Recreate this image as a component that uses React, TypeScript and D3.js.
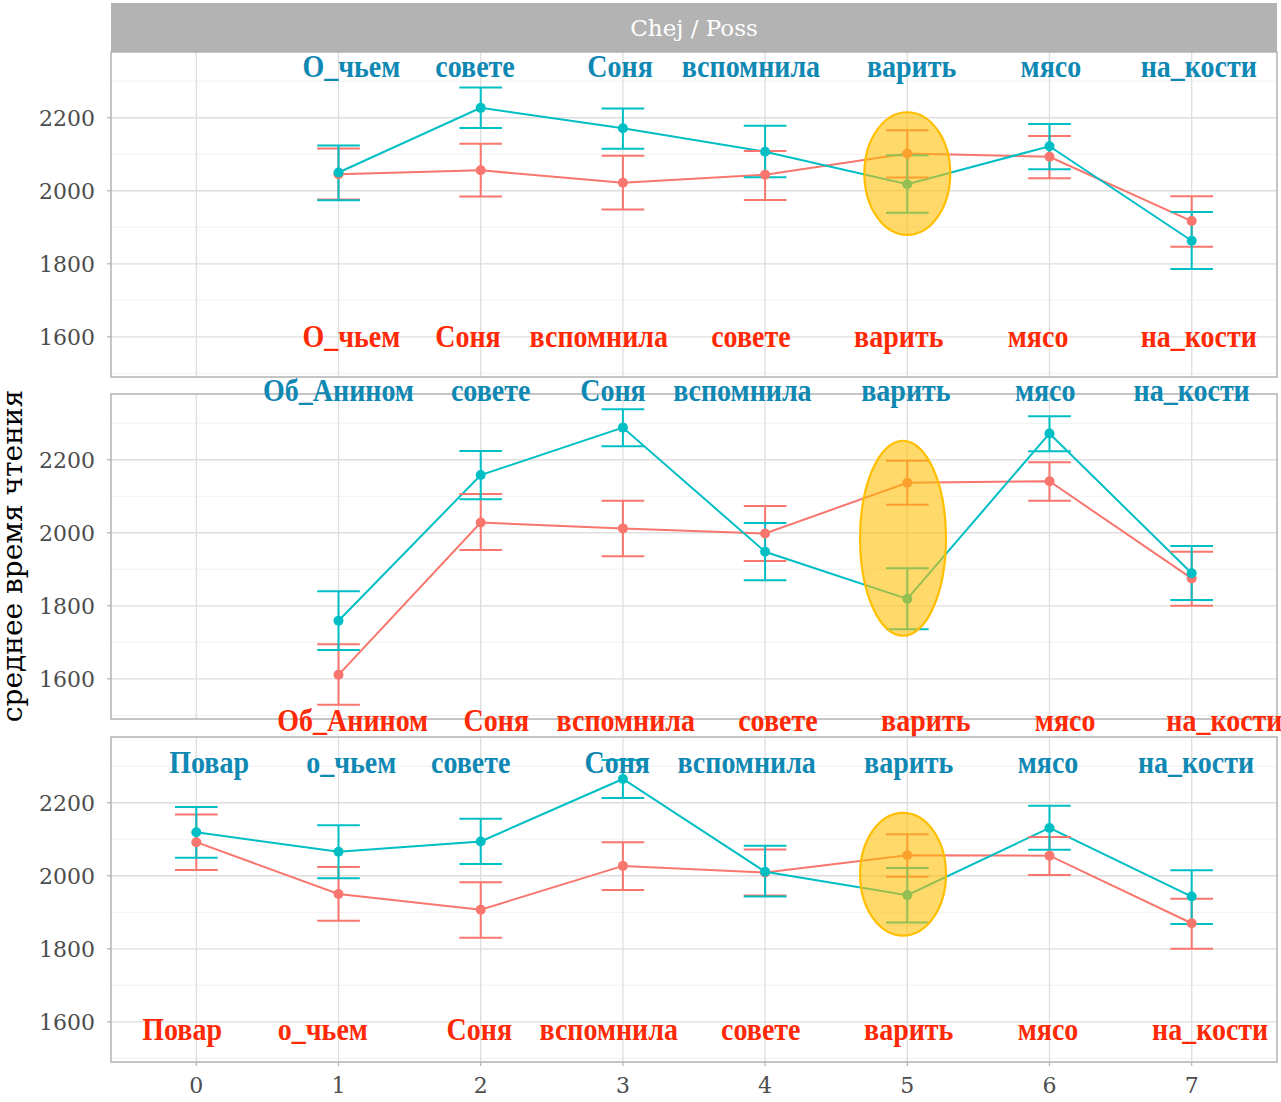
import React from "react";
import * as d3 from "d3";

// ---- data ----
const stripTitle = "Chej / Poss";
const yLabel = "среднее время чтения";
const xTicks = [0, 1, 2, 3, 4, 5, 6, 7];
const yTicks = [1600, 1800, 2000, 2200];
const yMinor = [1500, 1700, 1900, 2100, 2300];

const p1X = [1, 2, 3, 4, 5, 6, 7];
const p1Red = [2045, 2056, 2022, 2044, 2102, 2093, 1917];
const p1RedLo = [1976, 1984, 1949, 1975, 2036, 2034, 1847];
const p1RedHi = [2116, 2129, 2096, 2109, 2166, 2150, 1985];
const p1Blue = [2050, 2227, 2171, 2107, 2018, 2122, 1863];
const p1BlueLo = [1974, 2172, 2115, 2037, 1940, 2059, 1786];
const p1BlueHi = [2124, 2283, 2225, 2178, 2097, 2183, 1942];

const p2X = [1, 2, 3, 4, 5, 6, 7];
const p2Red = [1611, 2028, 2012, 1998, 2137, 2141, 1875];
const p2RedLo = [1529, 1953, 1936, 1923, 2077, 2088, 1800];
const p2RedHi = [1695, 2106, 2088, 2073, 2197, 2193, 1948];
const p2Blue = [1759, 2158, 2288, 1948, 1819, 2272, 1889];
const p2BlueLo = [1679, 2092, 2237, 1870, 1736, 2223, 1816];
const p2BlueHi = [1840, 2224, 2338, 2027, 1903, 2319, 1964];

const p3X = [0, 1, 2, 3, 4, 5, 6, 7];
const p3Red = [2092, 1950, 1907, 2027, 2009, 2056, 2055, 1870];
const p3RedLo = [2016, 1877, 1830, 1961, 1946, 1997, 2002, 1800];
const p3RedHi = [2168, 2024, 1982, 2092, 2072, 2114, 2106, 1937];
const p3Blue = [2119, 2066, 2094, 2265, 2011, 1947, 2131, 1943];
const p3BlueLo = [2049, 1993, 2032, 2213, 1943, 1872, 2071, 1868];
const p3BlueHi = [2188, 2138, 2156, 2317, 2082, 2021, 2192, 2015];

const p1BlueWords = ["О_чьем", "совете", "Соня", "вспомнила", "варить", "мясо", "на_кости"];
const p1BlueWordX = [1.09, 1.96, 2.98, 3.9, 5.03, 6.01, 7.05];
const p1BlueWordY = 2336;
const p1RedWords = ["О_чьем", "Соня", "вспомнила", "совете", "варить", "мясо", "на_кости"];
const p1RedWordX = [1.09, 1.91, 2.83, 3.9, 4.94, 5.92, 7.05];
const p1RedWordY = 1597;

const p2BlueWords = ["Об_Анином", "совете", "Соня", "вспомнила", "варить", "мясо", "на_кости"];
const p2BlueWordX = [1.0, 2.07, 2.93, 3.84, 4.99, 5.97, 7.0];
const p2BlueWordY = 2385;
const p2RedWords = ["Об_Анином", "Соня", "вспомнила", "совете", "варить", "мясо", "на_кости"];
const p2RedWordX = [1.1, 2.11, 3.02, 4.09, 5.13, 6.11, 7.23];
const p2RedWordY = 1481;

const p3BlueWords = ["Повар", "о_чьем", "совете", "Соня", "вспомнила", "варить", "мясо", "на_кости"];
const p3BlueWordX = [0.09, 1.09, 1.93, 2.96, 3.87, 5.01, 5.99, 7.03];
const p3BlueWordY = 2307;
const p3RedWords = ["Повар", "о_чьем", "Соня", "вспомнила", "совете", "варить", "мясо", "на_кости"];
const p3RedWordX = [-0.1, 0.89, 1.99, 2.9, 3.97, 5.01, 5.99, 7.13];
const p3RedWordY = 1574;

const ellipseX = [5.0, 4.97, 4.97];
const ellipseY = [2047, 1985, 2004];
const ellipseRxUnits = 0.302;
const ellipseRyUnits = [168, 267, 168];

// ---- styles ----
const W = 1281;
const H = 1102;
const left = 111;
const right = 1277;
const panelTops = [52, 394, 737];
const panelH = 325;
const RED = "#F8766D";
const BLUE = "#00BFC4";
const RED_TXT = "#ff2a05";
const BLUE_TXT = "#0f88b3";
const tickFont = "'DejaVu Serif', serif";
const wordFont = "'Liberation Serif', 'Times New Roman', serif";

const panels = [
  {
    x: p1X, red: p1Red, redLo: p1RedLo, redHi: p1RedHi, blue: p1Blue, blueLo: p1BlueLo, blueHi: p1BlueHi,
    bw: p1BlueWords, bwx: p1BlueWordX, bwy: p1BlueWordY, rw: p1RedWords, rwx: p1RedWordX, rwy: p1RedWordY,
  },
  {
    x: p2X, red: p2Red, redLo: p2RedLo, redHi: p2RedHi, blue: p2Blue, blueLo: p2BlueLo, blueHi: p2BlueHi,
    bw: p2BlueWords, bwx: p2BlueWordX, bwy: p2BlueWordY, rw: p2RedWords, rwx: p2RedWordX, rwy: p2RedWordY,
  },
  {
    x: p3X, red: p3Red, redLo: p3RedLo, redHi: p3RedHi, blue: p3Blue, blueLo: p3BlueLo, blueHi: p3BlueHi,
    bw: p3BlueWords, bwx: p3BlueWordX, bwy: p3BlueWordY, rw: p3RedWords, rwx: p3RedWordX, rwy: p3RedWordY,
  },
];

const xScale = d3.scaleLinear().domain([-0.6, 7.6]).range([left, right]);

function Word({ x, y, text, color }: any) {
  return (
    <text
      transform={`translate(${x},${y}) scale(0.875,1)`}
      dy="0.28em"
      textAnchor="middle"
      fontFamily={wordFont}
      fontWeight="bold"
      fontSize={32}
      fill={color}
    >
      {text}
    </text>
  );
}

function Panel({ p, top, idx }: any) {
  const y = d3.scaleLinear().domain([1490, 2380]).range([top + panelH, top]);
  const line = d3
    .line<number>()
    .x((_, i) => xScale(p.x[i]))
    .y((v) => y(v));
  const capHalf = 0.15;
  const series = [
    { vals: p.red, lo: p.redLo, hi: p.redHi, color: RED },
    { vals: p.blue, lo: p.blueLo, hi: p.blueHi, color: BLUE },
  ];
  const ex = xScale(ellipseX[idx]);
  const ey = y(ellipseY[idx]);
  const rx = xScale(ellipseRxUnits) - xScale(0);
  const ry = y(0) - y(ellipseRyUnits[idx]);
  return (
    <g>
      <rect x={left} y={top} width={right - left} height={panelH} fill="#fff" />
      {yMinor.map((t) => (
        <line key={"mn" + t} x1={left} x2={right} y1={y(t)} y2={y(t)} stroke="#ededed" strokeWidth={0.8} />
      ))}
      {yTicks.map((t) => (
        <line key={"mj" + t} x1={left} x2={right} y1={y(t)} y2={y(t)} stroke="#dedede" strokeWidth={1.3} />
      ))}
      {xTicks.map((t) => (
        <line key={"vx" + t} x1={xScale(t)} x2={xScale(t)} y1={top} y2={top + panelH} stroke="#dedede" strokeWidth={1.3} />
      ))}
      <rect x={left} y={top} width={right - left} height={panelH} fill="none" stroke="#b3b3b3" strokeWidth={1.5} />
      {yTicks.map((t) => (
        <g key={"yt" + t}>
          <line x1={left - 4} x2={left} y1={y(t)} y2={y(t)} stroke="#b3b3b3" strokeWidth={1.2} />
          <text x={left - 16} y={y(t)} dy="0.36em" textAnchor="end" fontFamily={tickFont} fontSize={22} fill="#4d4d4d">
            {t}
          </text>
        </g>
      ))}
      {series.map((s, si) => (
        <path key={"l" + si} d={line(s.vals) || ""} fill="none" stroke={s.color} strokeWidth={2} />
      ))}
      {series.map((s, si) =>
        s.vals.map((_: number, i: number) => {
          const cx = xScale(p.x[i]);
          const c1 = xScale(p.x[i] - capHalf);
          const c2 = xScale(p.x[i] + capHalf);
          return (
            <g key={"e" + si + "-" + i} stroke={s.color} strokeWidth={2}>
              <line x1={cx} x2={cx} y1={y(s.lo[i])} y2={y(s.hi[i])} />
              <line x1={c1} x2={c2} y1={y(s.lo[i])} y2={y(s.lo[i])} />
              <line x1={c1} x2={c2} y1={y(s.hi[i])} y2={y(s.hi[i])} />
            </g>
          );
        })
      )}
      {series.map((s, si) =>
        s.vals.map((v: number, i: number) => (
          <circle key={"c" + si + "-" + i} cx={xScale(p.x[i])} cy={y(v)} r={5} fill={s.color} />
        ))
      )}
      <ellipse cx={ex} cy={ey} rx={rx} ry={ry} fill="#FFBF00" fillOpacity={0.58} stroke="#FFBF00" strokeWidth={2.2} />
      {p.bw.map((w: string, i: number) => (
        <Word key={"bw" + i} x={xScale(p.bwx[i])} y={y(p.bwy)} text={w} color={BLUE_TXT} />
      ))}
      {p.rw.map((w: string, i: number) => (
        <Word key={"rw" + i} x={xScale(p.rwx[i])} y={y(p.rwy)} text={w} color={RED_TXT} />
      ))}
    </g>
  );
}

export default function App() {
  const bottom = panelTops[2] + panelH;
  return (
    <svg width={W} height={H} style={{ position: "absolute", left: 0, top: 0, background: "#fff" }}>
      <rect x={0} y={0} width={W} height={H} fill="#fff" />
      <rect x={left} y={3} width={right - left} height={panelTops[0] - 3} fill="#b3b3b3" />
      <text x={(left + right) / 2} y={28} dy="0.35em" textAnchor="middle" fontFamily={tickFont} fontSize={23} fill="#fff">
        {stripTitle}
      </text>
      {panels.map((p, i) => (
        <Panel key={i} p={p} top={panelTops[i]} idx={i} />
      ))}
      {xTicks.map((t) => (
        <g key={"xt" + t}>
          <line x1={xScale(t)} x2={xScale(t)} y1={bottom} y2={bottom + 4} stroke="#b3b3b3" strokeWidth={1.2} />
          <text x={xScale(t)} y={1085} dy="0.36em" textAnchor="middle" fontFamily={tickFont} fontSize={22} fill="#4d4d4d">
            {t}
          </text>
        </g>
      ))}
      <text transform={`translate(22, 556) rotate(-90)`} textAnchor="middle" fontFamily={tickFont} fontSize={28} fill="#000">
        {yLabel}
      </text>
    </svg>
  );
}
